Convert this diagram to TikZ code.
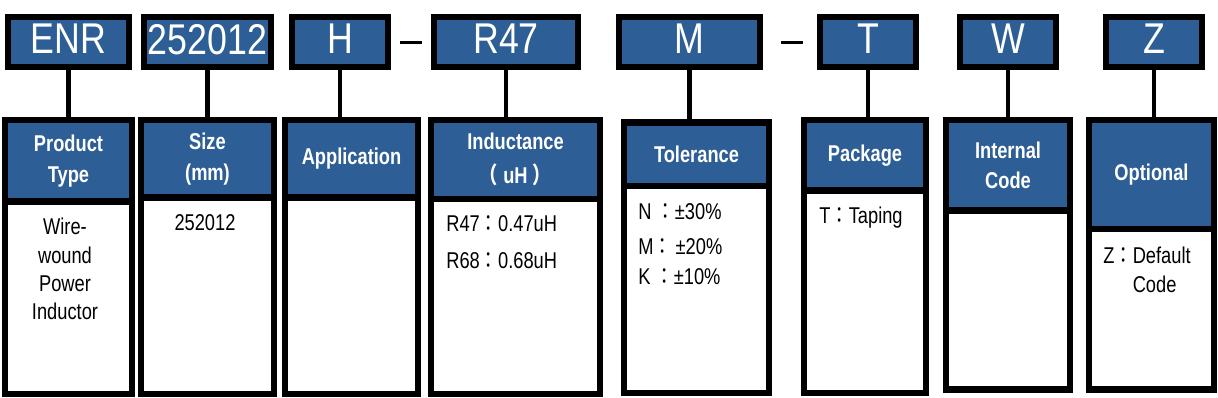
\documentclass[tikz,border=0pt]{standalone}
\usepackage{fontspec}
\setmainfont{Liberation Sans}
\newfontfamily\codefont[FakeStretch=0.83]{Liberation Sans}
\newfontfamily\narrowfont[FakeStretch=0.8]{Liberation Sans}
\newfontfamily\cjkfont[FakeStretch=0.8]{Noto Sans CJK TC}
\usetikzlibrary{calc,positioning}
\definecolor{partblue}{RGB}{45,94,150}
\newcommand{\fwc}{{\cjkfont ：}}
\tikzset{
	codebox/.style={draw=black, fill=partblue, line width=3.7pt, outer sep=0pt, inner sep=0pt, minimum height=1cm, text depth=3.4pt, text=white, font=\codefont\fontsize{24.5}{29}\selectfont},
	headbox/.style={draw=black, fill=partblue, line width=3.6pt, outer sep=0pt, inner sep=0pt, align=center, text=white, font=\narrowfont\bfseries\fontsize{13}{17.5}\selectfont},
	bodybox/.style={draw=black, fill=white, line width=3.6pt, outer sep=0pt, inner sep=0pt},
	bodytext/.style={inner sep=0pt, font=\narrowfont\fontsize{13}{16}\selectfont},
	stem/.style={line width=2.8pt},
	dashbar/.style={line width=1.7pt}
}

\begin{document}
\begin{tikzpicture}[x=0.02cm, y=-0.02cm]
		%%%%% START %%%%%
		\useasboundingbox (0, 0) rectangle (1218, 397);
		
		% part number
		\node[codebox, minimum width=2.42cm] (ENR) at (68.5, 42) {ENR};
		\node[codebox, minimum width=2.54cm] (size) at (207.5, 42) {252012};
		\node[codebox, minimum width=1.92cm] (H) at (340, 42) {H};
		\node[codebox, minimum width=2.88cm] (R47) at (506, 42) {R47};
		\node[codebox, minimum width=2.82cm] (M) at (689.5, 42) {M};
		\node[codebox, minimum width=1.92cm] (T) at (868, 42) {T};
		\node[codebox, minimum width=1.92cm] (W) at (1008, 42) {W};
		\node[codebox, minimum width=1.92cm] (Z) at (1154, 42) {Z};
		
		\draw[dashbar] ($(H.east)!0.5!(R47.west)+(-11, 0)$) -- ++(22, 0);
		\draw[dashbar] ($(M.east)!0.5!(T.west)+(-9, 0)$) -- ++(22, 0);
		
		% headers
		\node[headbox, anchor=north, minimum width=2.54cm, minimum height=1.63cm] (ptype) at (68.5, 120) {Product\\Type};
		\node[headbox, anchor=north, minimum width=2.66cm, minimum height=1.55cm] (psize) at (207.5, 120) {Size\\(mm)};
		\node[headbox, anchor=north, minimum width=2.66cm, minimum height=1.55cm] (papp) at (351.5, 120) {Application};
		\node[headbox, anchor=north, minimum width=3.38cm, minimum height=1.58cm] (pind) at (515.5, 120) {Inductance\\[2pt]{\cjkfont （} uH {\cjkfont ）}};
		\node[headbox, anchor=north, minimum width=2.90cm, minimum height=1.27cm] (ptol) at (696.5, 122.5) {Tolerance};
		\node[headbox, anchor=north, minimum width=2.44cm, minimum height=1.41cm] (ppack) at (865, 120) {Package};
		\node[headbox, anchor=north, minimum width=2.48cm, minimum height=1.81cm] (pint) at (1008, 120) {Internal\\Code};
		\node[headbox, anchor=north, minimum width=2.50cm, minimum height=2.18cm] (popt) at (1151.5, 120) {Optional};
		
		% bodies
		\node[bodybox, below=0pt of ptype, minimum width=2.54cm, minimum height=3.85cm] (ptypeb) {};
		\node[bodybox, below=0pt of psize, minimum width=2.66cm, minimum height=3.93cm] (psizeb) {};
		\node[bodybox, below=0pt of papp, minimum width=2.66cm, minimum height=3.93cm] (pappb) {};
		\node[bodybox, below=0pt of pind, minimum width=3.38cm, minimum height=3.90cm] (pindb) {};
		\node[bodybox, below=0pt of ptol, minimum width=2.90cm, minimum height=4.14cm] (ptolb) {};
		\node[bodybox, below=0pt of ppack, minimum width=2.44cm, minimum height=4.05cm] (ppackb) {};
		\node[bodybox, below=0pt of pint, minimum width=2.48cm, minimum height=3.58cm] (pintb) {};
		\node[bodybox, below=0pt of popt, minimum width=2.50cm, minimum height=3.21cm] (poptb) {};
		
		% stems
		\draw[stem] (ENR.south) -- (ENR.south |- ptype.north);
		\draw[stem] (size.south) -- (size.south |- psize.north);
		\draw[stem] (H.south) -- (H.south |- papp.north);
		\draw[stem] (R47.south) -- (R47.south |- pind.north);
		\draw[stem] (M.south) -- (M.south |- ptol.north);
		\draw[stem] (T.south) -- (T.south |- ppack.north);
		\draw[stem] (W.south) -- (W.south |- pint.north);
		\draw[stem] (Z.south) -- (Z.south |- popt.north);
		
		% values
		\node[bodytext, anchor=north, align=center] (typetxt) at (65, 218) {Wire-\\wound\\Power\\Inductor};
		\node[bodytext, anchor=north] (sizetxt) at (205, 214) {252012};
		\node[bodytext, anchor=north west, align=left] (indtxt) at (446, 215) {R47\fwc0.47uH\\[5pt]R68\fwc0.68uH};
		\node[bodytext, anchor=north west, align=left] (toltxt) at (638, 203) {N \fwc±30\%\\[4pt]M\fwc\,±20\%\\[1pt]K \fwc±10\%};
		\node[bodytext, anchor=north west] (packtxt) at (819, 207) {T\fwc Taping};
		\node[bodytext, anchor=north west, align=left] (opttxt) at (1103, 247) {Z\fwc Default\\\phantom{Z\fwc}Code};
		
		%%%%% END %%%%%
\end{tikzpicture}
\end{document}
